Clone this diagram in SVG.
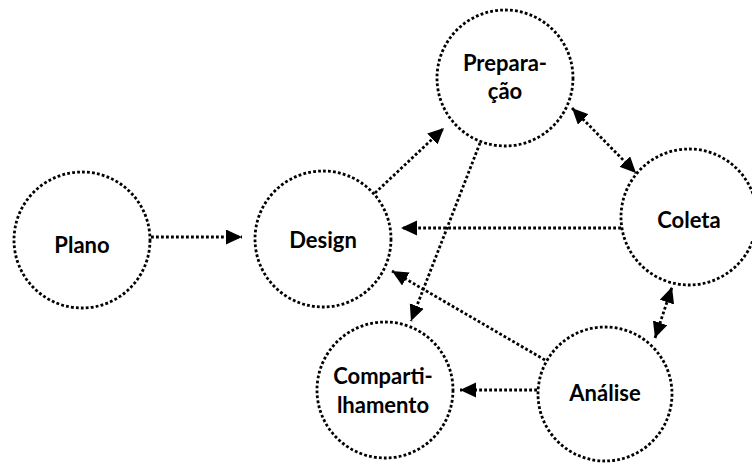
<svg xmlns="http://www.w3.org/2000/svg" width="752" height="463" viewBox="0 0 752 463">
  <style>
    .node { fill: none; stroke: #000; stroke-width: 2.8; stroke-dasharray: 2.8 2.2; }
    .edge { fill: none; stroke: #000; stroke-width: 2.8; stroke-dasharray: 2.8 2.2; }
    .label { font-family: Lato, "Open Sans", "Liberation Sans", sans-serif; font-weight: 700; font-size: 22px; fill: #000; text-anchor: middle; }
  </style>
  <defs>
    <marker id="arrow" markerUnits="userSpaceOnUse" markerWidth="17" markerHeight="16" refX="16" refY="7.5" orient="auto-start-reverse">
      <path d="M0,0 L16,7.5 L0,15 z" fill="#000"/>
    </marker>
  </defs>
  <rect width="752" height="463" fill="#fff"/>

  <g id="connectors">
    <!-- Plano -> Design -->
    <line class="edge" x1="151" y1="237" x2="242" y2="237" marker-end="url(#arrow)"/>
    <!-- Design -> Preparação -->
    <line class="edge" x1="375" y1="193" x2="444" y2="128" marker-end="url(#arrow)"/>
    <!-- Preparação <-> Coleta -->
    <line class="edge" x1="572" y1="108" x2="636" y2="173" marker-start="url(#arrow)" marker-end="url(#arrow)"/>
    <!-- Coleta -> Design -->
    <line class="edge" x1="621" y1="228" x2="401" y2="228" marker-end="url(#arrow)"/>
    <!-- Preparação -> Compartilhamento -->
    <line class="edge" x1="480" y1="143" x2="411" y2="321" marker-end="url(#arrow)"/>
    <!-- Análise -> Design -->
    <line class="edge" x1="545" y1="360" x2="392" y2="271" marker-end="url(#arrow)"/>
    <!-- Análise -> Compartilhamento -->
    <line class="edge" x1="537" y1="390" x2="460" y2="390" marker-end="url(#arrow)"/>
    <!-- Coleta <-> Análise -->
    <line class="edge" x1="655" y1="338" x2="672" y2="287" marker-start="url(#arrow)" marker-end="url(#arrow)"/>
  </g>

  <g id="plano">
    <circle class="node" cx="82" cy="240" r="68"/>
    <text class="label" x="82" y="253">Plano</text>
  </g>
  <g id="design">
    <circle class="node" cx="323" cy="239" r="68"/>
    <text class="label" x="323" y="248">Design</text>
  </g>
  <g id="preparacao">
    <circle class="node" cx="505" cy="78" r="68"/>
    <text class="label" x="505" y="71">Prepara-</text>
    <text class="label" x="505" y="99">ção</text>
  </g>
  <g id="coleta">
    <circle class="node" cx="689" cy="217" r="68"/>
    <text class="label" x="689" y="228">Coleta</text>
  </g>
  <g id="compartilhamento">
    <circle class="node" cx="385" cy="390" r="68"/>
    <text class="label" x="383" y="384">Comparti-</text>
    <text class="label" x="383" y="413">lhamento</text>
  </g>
  <g id="analise">
    <circle class="node" cx="605" cy="394" r="67"/>
    <text class="label" x="605" y="401">Análise</text>
  </g>
</svg>
